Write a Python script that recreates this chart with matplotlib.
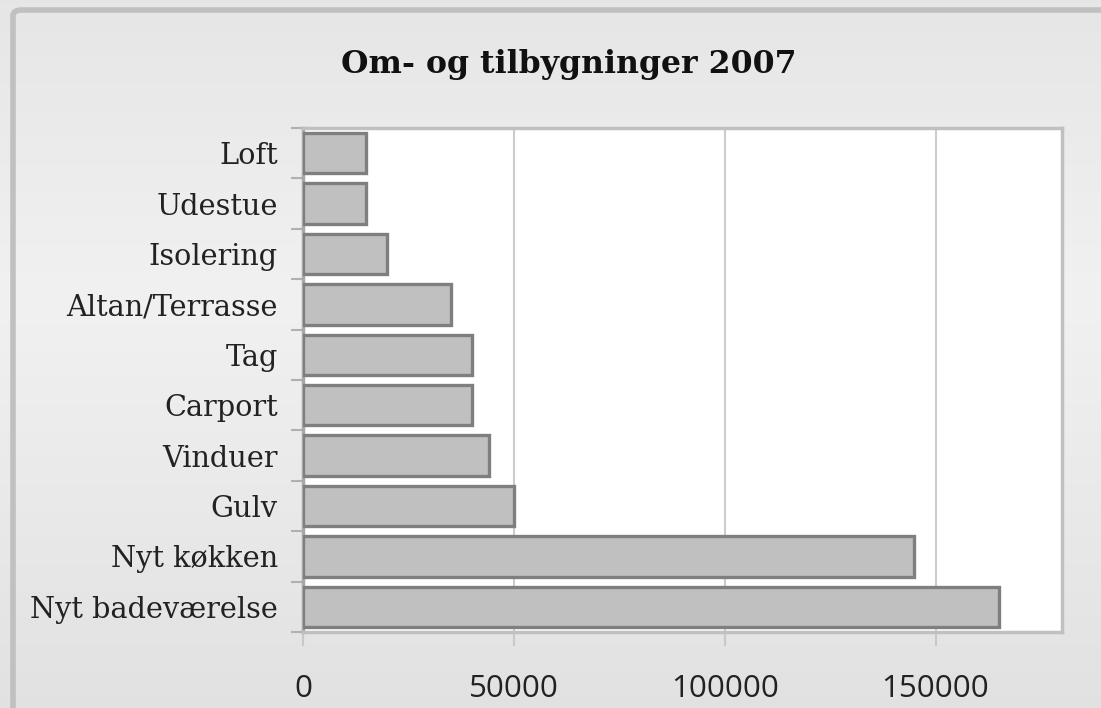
import matplotlib
matplotlib.use("Agg")
import matplotlib.pyplot as plt
import numpy as np
from matplotlib.patches import FancyBboxPatch

categories = ["Nyt badeværelse", "Nyt køkken", "Gulv", "Vinduer", "Carport",
              "Tag", "Altan/Terrasse", "Isolering", "Udestue", "Loft"]
values = [165000, 145000, 50000, 44000, 40000, 40000, 35000, 20000, 15000, 15000]
xticks = [0, 50000, 100000, 150000]
title = "Om- og tilbygninger 2007"

W, H = 1101, 708
fig = plt.figure(figsize=(W/100, H/100), dpi=100)

# background gradient (darker at top/bottom, lighter in the middle)
bg = fig.add_axes([0, 0, 1, 1], zorder=-10)
t = np.linspace(0, 1, 256)
g = 0.945 - 0.06 * np.abs(t - 0.42) / 0.58
grad = g.reshape(-1, 1)
bg.imshow(np.dstack([grad, grad, grad]), aspect="auto", extent=[0, 1, 0, 1], origin="upper")
bg.add_patch(FancyBboxPatch((13/W, -0.05), 1.2, 1 - 10/H + 0.05, boxstyle="round,pad=0,rounding_size=0.008",
                            transform=bg.transAxes, fill=False, ec="#c0c0c0", lw=4))
bg.set_xlim(0, 1); bg.set_ylim(0, 1)
bg.axis("off")

L, R, T, B = 303, 1062, 128, 632
ax = fig.add_axes([L/W, 1 - B/H, (R-L)/W, (B-T)/H])
y = np.arange(len(categories))
ax.barh(y, values, height=0.8, color="#c0c0c0", edgecolor="#7f7f7f", linewidth=2.4, zorder=3)
ax.set_xlim(0, 180000)
ax.set_ylim(-0.5, len(categories) - 0.5)
ax.set_xticks(xticks)
ax.set_xticklabels([str(v) for v in xticks], family="Open Sans", fontsize=22.5, color="#222222")
ax.set_yticks(y)
ax.set_yticklabels(categories, family="DejaVu Serif", fontsize=20.7, color="#222222")
ax.set_yticks(np.arange(len(categories) + 1) - 0.5, minor=True)
ax.tick_params(axis="y", which="major", length=0, pad=18)
ax.tick_params(axis="y", which="minor", length=9, color="#b0b0b0", width=1.5)
ax.tick_params(axis="x", length=10, color="#c8c8c8", width=1.5, pad=20.5)
ax.grid(axis="x", color="#cccccc", lw=1.5, zorder=0)
for s in ["top", "right", "bottom"]:
    ax.spines[s].set_color("#c0c0c0"); ax.spines[s].set_linewidth(2.5)
ax.spines["left"].set_color("#a8a8a8"); ax.spines["left"].set_linewidth(2.5)

fig.text(569/W, 1 - 65/H, title, ha="center", va="center", family="DejaVu Serif",
         fontweight="bold", fontsize=22.7, color="#111111")

fig.savefig("out.png", dpi=100)
